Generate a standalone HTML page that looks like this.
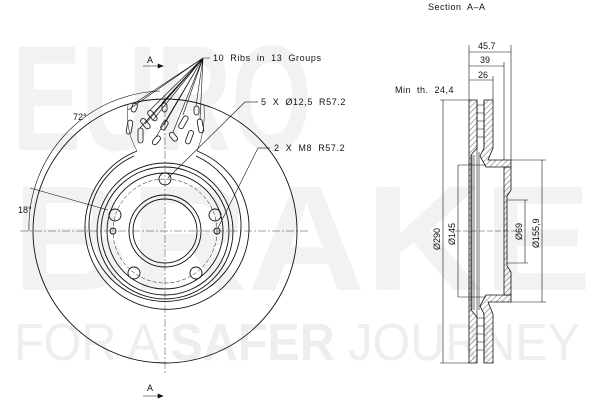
<!DOCTYPE html>
<html><head><meta charset="utf-8"><style>
html,body{margin:0;padding:0;background:#fff;}
svg{display:block;}
text{font-family:"Liberation Sans",sans-serif;}
.t text{fill:#111;}
</style></head><body>
<svg width="600" height="400" viewBox="0 0 600 400" xmlns="http://www.w3.org/2000/svg">
<defs>
<pattern id="h" width="4" height="4" patternUnits="userSpaceOnUse" patternTransform="rotate(45)">
<line x1="0" y1="0" x2="0" y2="4" stroke="#222" stroke-width="0.7"/></pattern>
</defs>
<g font-weight="bold">
<text x="12" y="150" font-size="150" style="fill:#f2f2f2" textLength="300" lengthAdjust="spacingAndGlyphs">EURO</text>
<text x="12" y="290" font-size="150" style="fill:#f2f2f2" textLength="580" lengthAdjust="spacingAndGlyphs">BRAKE</text>
</g>
<text x="14" y="360" font-size="52" style="fill:#eeeeee" textLength="566" lengthAdjust="spacingAndGlyphs">FOR A <tspan font-weight="bold">SAFER</tspan> JOURNEY</text>

<g fill="none" stroke="#111" stroke-width="0.9">
<circle cx="165" cy="231" r="132"/>
<path d="M137 151 A82 82 0 1 0 197 151"/>
<path d="M134 156 A76 76 0 1 0 196 156"/>
<circle cx="165" cy="231" r="68"/>
<circle cx="165" cy="231" r="64"/>
<circle cx="165" cy="231" r="58"/>
<circle cx="165" cy="231" r="36"/>
<circle cx="165" cy="231" r="32"/>
<circle cx="165" cy="231" r="52" stroke-dasharray="4 2" stroke-width="0.5"/>
<path d="M137 151 Q125 130 128 105 M197 151 Q206 130 204 105" stroke-width="0.5"/>
<circle cx="165" cy="179" r="6"/><circle cx="115" cy="215" r="6"/><circle cx="215" cy="215" r="6"/>
<circle cx="134" cy="273" r="6"/><circle cx="196" cy="273" r="6"/>
<circle cx="113" cy="231" r="3"/><circle cx="217" cy="231" r="3"/>
<g stroke-width="0.8">
<rect x="132" y="103" width="5" height="9" rx="2.5" transform="rotate(20 134 107)"/>
<rect x="150" y="110" width="5" height="12" rx="2.5" transform="rotate(-40 152 116)"/>
<rect x="162" y="103" width="5" height="9" rx="2.5"/>
<rect x="127" y="120" width="5" height="14" rx="2.5" transform="rotate(10 129 127)"/>
<rect x="143" y="118" width="5" height="12" rx="2.5" transform="rotate(-40 145 124)"/>
<rect x="162" y="120" width="5" height="10" rx="2.5" transform="rotate(30 164 125)"/>
<rect x="181" y="115" width="5" height="14" rx="2.5" transform="rotate(30 183 122)"/>
<rect x="194" y="106" width="5" height="9" rx="2.5"/>
<rect x="198" y="119" width="5" height="14" rx="2.5" transform="rotate(-10 200 126)"/>
<rect x="138" y="128" width="5" height="15" rx="2.5"/>
<rect x="154" y="135" width="5" height="10" rx="2.5" transform="rotate(40 156 140)"/>
<rect x="171" y="132" width="5" height="10" rx="2.5" transform="rotate(-40 173 137)"/>
<rect x="187" y="130" width="5" height="14" rx="2.5" transform="rotate(20 189 137)"/>
</g>
</g>
<g stroke="#111" stroke-width="0.6" fill="none">
<line x1="20" y1="231" x2="310" y2="231" stroke-dasharray="8 2 2 2" stroke-width="0.4"/>
<line x1="165" y1="95" x2="165" y2="375" stroke-dasharray="8 2 2 2" stroke-width="0.4"/>
<path d="M203 58 L128 110 M203 58 L135 103 M203 58 L150 110 M203 58 L153 120 M203 58 L162 103 M203 58 L145 124 M203 58 L164 125 M203 58 L183 115 M203 58 L196 106 M203 58 L200 120 M203 58 L140 128 M203 58 L156 137 M203 58 L173 132 M203 58 L210 58"/>
<path d="M29 231 A136 136 0 0 1 160 91"/>
<line x1="30" y1="188" x2="108" y2="210"/>
<line x1="258" y1="148" x2="218" y2="228"/>
<line x1="258" y1="148" x2="270" y2="148"/>
<line x1="245" y1="102" x2="168" y2="178"/>
<line x1="245" y1="102" x2="258" y2="102"/>
<line x1="143" y1="66" x2="163" y2="66"/><path d="M163 66 l-5 -2 v4z" fill="#111"/>
<line x1="143" y1="396" x2="163" y2="396"/><path d="M163 396 l-5 -2 v4z" fill="#111"/>
</g>
<g class="t" font-size="9">
<text x="147" y="63">A</text>
<text x="147" y="391">A</text>
<text x="213" y="61" word-spacing="3" letter-spacing="0.6">10 Ribs in 13 Groups</text>
<text x="261" y="105" word-spacing="3" letter-spacing="0.6">5 X Ø12,5    R57.2</text>
<text x="274" y="151" word-spacing="3" letter-spacing="0.6">2 X M8    R57.2</text>
<text x="73" y="120">72°</text>
<text x="18" y="213">18°</text>
<text x="428" y="10" word-spacing="3" letter-spacing="0.5">Section A–A</text>
<text x="395" y="93" word-spacing="3" letter-spacing="0.5">Min th. 24,4</text>
<text x="478" y="49">45.7</text>
<text x="480" y="63">39</text>
<text x="478" y="78">26</text>
</g>
<g stroke="#111" stroke-width="0.8">
<path d="M469 100 H477 V148 L471 155 V310 L477 317 V363 H469Z" fill="url(#h)"/>
<path d="M484 100 H493 V148 L488 160 H511 V167 H486 L480 156 L484 148 Z" fill="url(#h)"/>
<path d="M484 363 H493 V314 L488 302 H511 V295 H486 L480 306 L484 314 Z" fill="url(#h)"/>
<path d="M504 167 H511 V190 L507 196 V266 L511 272 V295 H504Z" fill="url(#h)"/>
<g fill="none" stroke-width="0.6">
<path d="M477 105 H484 M477 113 H484 M477 121 H484 M477 129 H484 M477 137 H484 M477 318 H484 M477 326 H484 M477 334 H484 M477 342 H484 M477 350 H484"/>
<line x1="477" y1="100" x2="477" y2="363"/><line x1="484" y1="100" x2="484" y2="148"/><line x1="484" y1="314" x2="484" y2="363"/>
<line x1="472" y1="155" x2="472" y2="310"/><line x1="474" y1="155" x2="474" y2="310"/><line x1="479" y1="152" x2="479" y2="310"/>
<line x1="458" y1="165" x2="486" y2="165"/><line x1="458" y1="297" x2="486" y2="297"/>
<line x1="469" y1="45" x2="469" y2="100"/><line x1="493" y1="76" x2="493" y2="100"/>
<line x1="504" y1="62" x2="504" y2="160"/><line x1="511" y1="45" x2="511" y2="160"/>
<line x1="469" y1="52" x2="511" y2="52"/><line x1="469" y1="66" x2="504" y2="66"/><line x1="469" y1="80" x2="493" y2="80"/>
<line x1="440" y1="100" x2="469" y2="100"/><line x1="440" y1="363" x2="469" y2="363"/>
<line x1="443" y1="100" x2="443" y2="363"/><line x1="458" y1="165" x2="458" y2="297"/>
<line x1="511" y1="160" x2="546" y2="160"/><line x1="511" y1="302" x2="546" y2="302"/>
<line x1="542" y1="160" x2="542" y2="302"/>
<line x1="507" y1="200" x2="528" y2="200"/><line x1="507" y1="263" x2="528" y2="263"/>
<line x1="525" y1="200" x2="525" y2="263"/>
<line x1="455" y1="231" x2="520" y2="231" stroke-dasharray="6 2" stroke-width="0.4"/>
</g>
</g>
<g class="t" font-size="9">
<text transform="translate(440 250) rotate(-90)">Ø290</text>
<text transform="translate(455 245) rotate(-90)">Ø145</text>
<text transform="translate(522 240) rotate(-90)">Ø69</text>
<text transform="translate(539 248) rotate(-90)">Ø155,9</text>
</g>
</svg>
</body></html>
